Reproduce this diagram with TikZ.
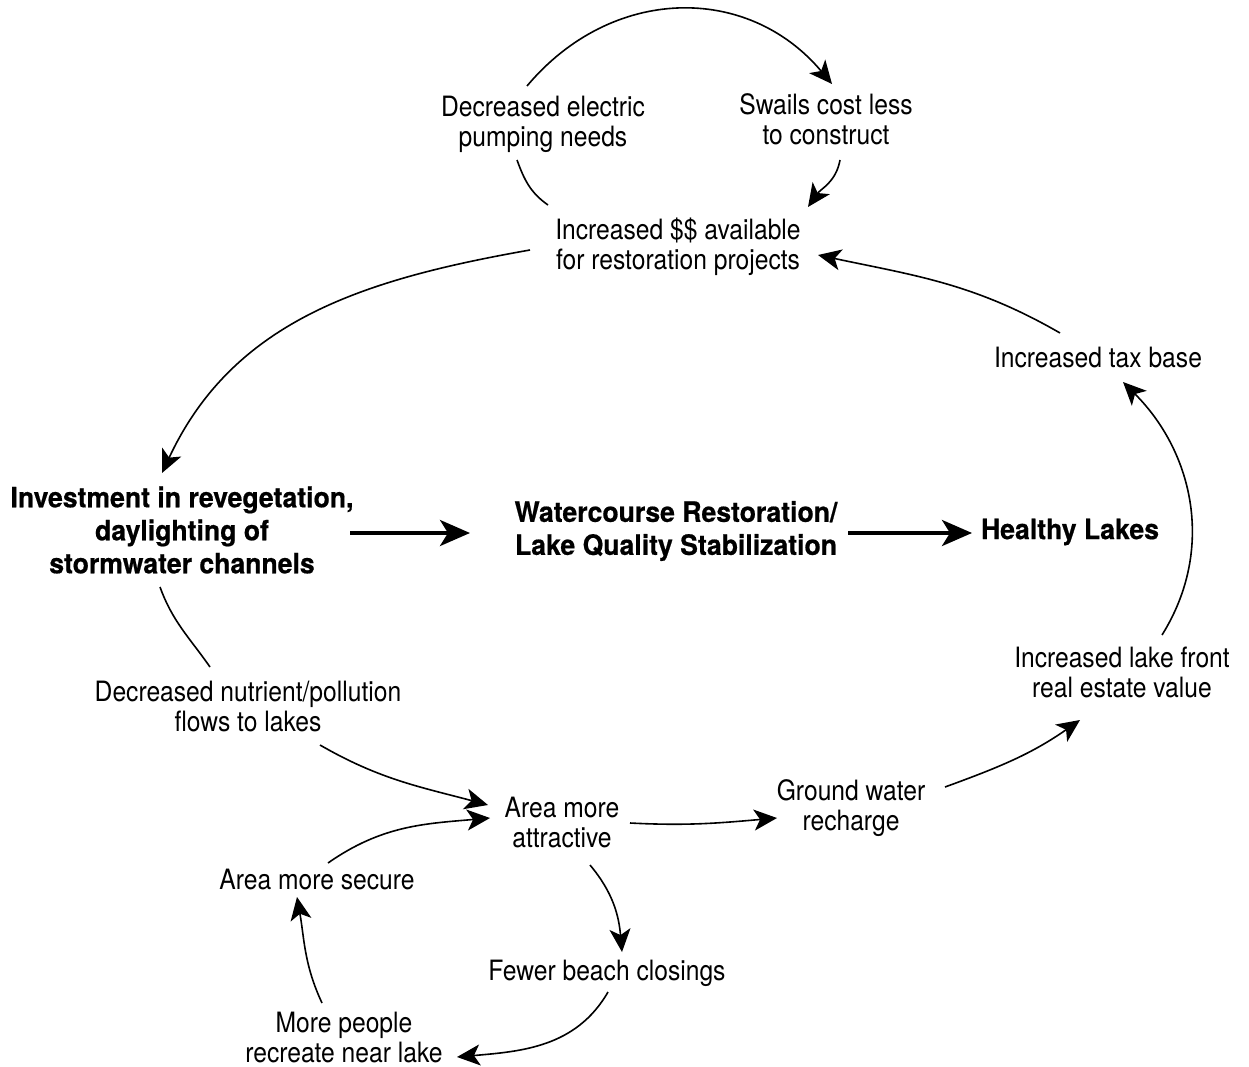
\documentclass[tikz,border=0pt]{standalone}
\usepackage{fontspec}
\setmainfont{TeX Gyre Heros}[UprightFeatures={FakeStretch=0.88},BoldFeatures={FakeStretch=0.95,FakeBold=0.6}]
\usetikzlibrary{arrows.meta}

\begin{document}
\begin{tikzpicture}[x=1pt,y=1pt,
  every node/.style={align=center,inner sep=6pt,font=\fontsize{28}{30}\selectfont},
  key/.style={font=\fontsize{28}{33}\selectfont\bfseries},
  link/.style={line width=1.6pt,-{Stealth[length=23pt,width=21pt,inset=6pt]}},
  plain/.style={line width=1.6pt},
  main/.style={line width=3.8pt,-{Stealth[length=30pt,width=26pt,inset=8pt]}}]
  \useasboundingbox (0,0) rectangle (1249,-1067);

  \node (elec) at (543,-124) {Decreased electric\\pumping needs};
  \node (swails) at (826,-119) {Swails cost less\\to construct};
  \node (dollars) at (678,-247) {Increased \$\$ available\\for restoration projects};
  \node (tax) at (1098,-358) {Increased tax base};
  \node[key] (invest) at (182,-530) {Investment in revegetation,\\daylighting of\\stormwater channels};
  \node[key] (water) at (676,-531) {Watercourse Restoration/\\Lake Quality Stabilization};
  \node[key] (healthy) at (1070,-532) {Healthy Lakes};
  \node (lakefront) at (1122,-672) {Increased lake front\\real estate value};
  \node (nutrient) at (248,-706) {Decreased nutrient/pollution\\flows to lakes};
  \node (attractive) at (562,-822) {Area more\\attractive};
  \node (ground) at (851,-808) {Ground water\\recharge};
  \node (secure) at (317,-879) {Area more secure};
  \node (beach) at (607,-973) {Fewer beach closings};
  \node (people) at (344,-1037) {More people\\recreate near lake};

  \path[link]
    ([shift={(-16,38)}]elec.center) edge[out=50,in=130,looseness=1.1] ([shift={(6,35)}]swails.center)
    ([shift={(14,-41)}]swails.center) edge[out=-100,in=55] ([shift={(130,40)}]dollars.center)
    ([shift={(-148,-3)}]dollars.center) edge[out=190,in=65] ([shift={(-20,57)}]invest.center)
    ([shift={(-38,25)}]tax.center) edge[out=150,in=-12] ([shift={(140,-8)}]dollars.center)
    ([shift={(40,37)}]lakefront.center) edge[out=58,in=-45] ([shift={(25,-24)}]tax.center)
    ([shift={(72,-39)}]nutrient.center) edge[out=-30,in=165] ([shift={(-74,17)}]attractive.center)
    ([shift={(68,-1)}]attractive.center) edge[out=-3,in=185] ([shift={(-74,-10)}]ground.center)
    ([shift={(94,21)}]ground.center) edge[out=20,in=215] ([shift={(-42,-48)}]lakefront.center)
    ([shift={(28,-43)}]attractive.center) edge[out=-50,in=95] ([shift={(15,21)}]beach.center)
    ([shift={(1,-19)}]beach.center) edge[out=-120,in=5] ([shift={(113,-20)}]people.center)
    ([shift={(-22,34)}]people.center) edge[out=115,in=-80] ([shift={(-20,-18)}]secure.center)
    ([shift={(11,16)}]secure.center) edge[out=35,in=185] ([shift={(-72,4)}]attractive.center);
  \path[plain]
    ([shift={(-26,-36)}]elec.center) edge[out=-70,in=145] ([shift={(-130,42)}]dollars.center)
    ([shift={(-22,-57)}]invest.center) edge[out=-70,in=125] ([shift={(-38,39)}]nutrient.center);
  \path[main]
    ([shift={(168,-3)}]invest.center) edge ([shift={(-206,-2)}]water.center)
    ([shift={(172,-2)}]water.center) edge ([shift={(-98,-1)}]healthy.center);
\end{tikzpicture}
\end{document}
